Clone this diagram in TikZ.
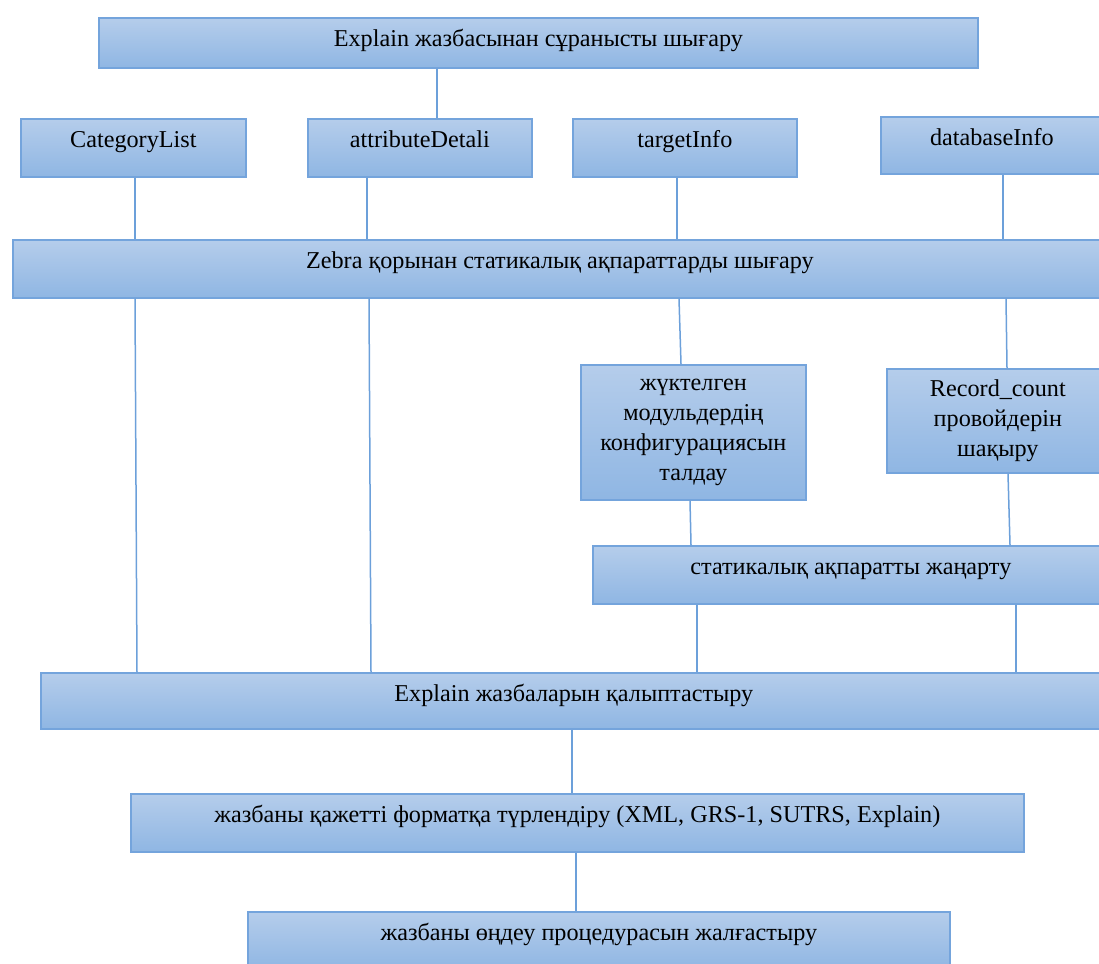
\documentclass[tikz,border=0pt]{standalone}
\usepackage{fontspec}
\setmainfont{Liberation Serif}
\definecolor{boxtop}{RGB}{181,205,235}
\definecolor{boxbot}{RGB}{143,182,227}
\definecolor{boxline}{RGB}{116,164,220}
\definecolor{linkc}{RGB}{108,160,218}
\tikzset{
  box/.style={draw=boxline, line width=1.7pt, top color=boxtop, bottom color=boxbot,
    anchor=north west, inner xsep=0pt, inner ysep=13pt, text height=16pt, text depth=16pt,
    font=\fontsize{24.2}{30}\selectfont},
  multibox/.style={box, text height=, text depth=, inner ysep=0pt, align=center},
  link/.style={draw=linkc, line width=1.5pt}
}
\begin{document}
\begin{tikzpicture}[x=1pt, y=-1pt]
\useasboundingbox (0,0) rectangle (1099,963);
\clip (0,0) rectangle (1099,963);
\node[box, minimum width=879pt, text depth=8pt] (req) at (98,17) {Explain жазбасынан сұранысты шығару};
\node[box, minimum width=225pt] (cat) at (20,118) {CategoryList};
\node[box, minimum width=224pt] (attr) at (307,118) {attributeDetali};
\node[box, minimum width=224pt] (targ) at (572,118) {targetInfo};
\node[box, minimum width=222pt, text depth=15pt] (db) at (880,116) {databaseInfo};
\node[box, minimum width=1094pt] (zebra) at (12,239) {Zebra қорынан статикалық ақпараттарды шығару};
\node[multibox, minimum width=225pt, minimum height=135pt] (modconf) at (580,364) {жүктелген\\модульдердің\\конфигурациясын\\талдау};
\node[multibox, minimum width=222pt, minimum height=104pt] (reccount) at (886,368) {Record\_count\\провойдерін\\шақыру};
\node[box, minimum width=516pt] (upd) at (592,545) {статикалық ақпаратты жаңарту};
\node[box, minimum width=1066pt, text depth=14pt] (form) at (40,672) {Explain жазбаларын қалыптастыру};
\node[box, minimum width=893pt] (conv) at (130,793) {жазбаны қажетті форматқа түрлендіру (XML, GRS-1, SUTRS, Explain)};
\node[box, minimum width=702pt] (cont) at (247,911) {жазбаны өңдеу процедурасын жалғастыру};
\draw[link] (req.south -| 437,0) -- (attr.north -| 437,0);
\draw[link] (cat.south -| 135,0) -- (zebra.north -| 135,0);
\draw[link] (attr.south -| 367,0) -- (zebra.north -| 367,0);
\draw[link] (targ.south -| 677,0) -- (zebra.north -| 677,0);
\draw[link] (db.south -| 1003,0) -- (zebra.north -| 1003,0);
\draw[link] (zebra.south -| 135,0) -- (form.north -| 137,0);
\draw[link] (zebra.south -| 369,0) -- (form.north -| 371,0);
\draw[link] (zebra.south -| 679,0) -- (modconf.north -| 681,0);
\draw[link] (zebra.south -| 1006,0) -- (reccount.north -| 1007,0);
\draw[link] (modconf.south -| 690,0) -- (upd.north -| 691,0);
\draw[link] (reccount.south -| 1008,0) -- (upd.north -| 1010,0);
\draw[link] (upd.south -| 697,0) -- (form.north -| 697,0);
\draw[link] (upd.south -| 1016,0) -- (form.north -| 1016,0);
\draw[link] (form.south -| 572,0) -- (conv.north -| 572,0);
\draw[link] (conv.south -| 576,0) -- (cont.north -| 576,0);
\end{tikzpicture}
\end{document}
